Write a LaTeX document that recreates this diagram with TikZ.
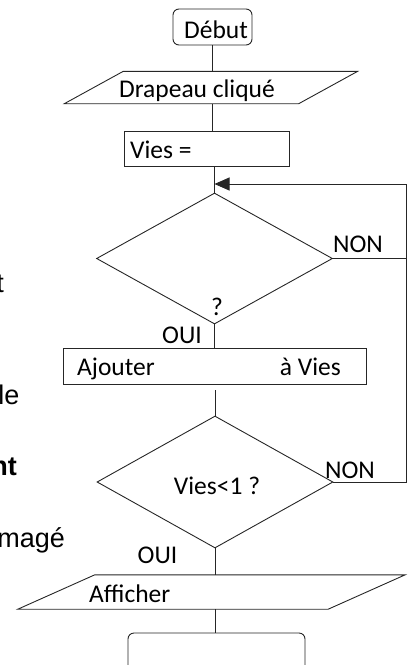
\documentclass[tikz,border=0pt]{standalone}
\usepackage{fontspec}
\setmainfont{Carlito}
\newfontfamily\arial{Liberation Sans}
\usetikzlibrary{shapes,arrows.meta,calc}
\tikzstyle{trait}=[draw=black!85, line width=0.9pt]
\tikzstyle{fleche}=[trait, -{Triangle[length=15pt,width=13pt]}]
\tikzstyle{boite}=[rectangle, trait, inner sep=0pt]
\tikzstyle{bout}=[boite, rounded corners=6pt]
\tikzstyle{cadre}=[rectangle, inner sep=0pt]
\tikzstyle{test}=[diamond, trait, inner sep=0pt]
\tikzstyle{txt}=[inner sep=0pt]
\tikzstyle{bord}=[txt, anchor=base east, font=\arial\fontsize{27}{32}\selectfont]

\begin{document}
\begin{tikzpicture}[x=1pt, y=-1pt, font=\fontsize{25.5}{30}\selectfont]
\useasboundingbox (0,0) rectangle (409,665);

% bouts de texte coupes a gauche
\node (m1) [bord] at (4,292) {t};
\node (m2) [bord] at (19.5,404) {le};
\node (m3) [bord] at (17,475) {\bfseries nt};
\node (m4) [bord] at (65,547) {magé};

% formes
\node (debut) [bout, minimum width=79pt, minimum height=36pt] at (212.5,27) {};
\node (drapeau) [cadre, minimum width=293pt, minimum height=32pt] at (211,87.5) {};
\draw [trait] ($(drapeau.north west)+(59,0)$) -- (drapeau.north east)
  -- ($(drapeau.south east)+(-59,0)$) -- (drapeau.south west) -- cycle;
\node (vies) [boite, minimum width=165pt, minimum height=35pt] at (206.5,148.5) {};
\node (d1) [test, minimum width=236pt, minimum height=131pt] at (214.5,258.5) {};
\node (ajout) [boite, minimum width=303pt, minimum height=36pt] at (214.5,366) {};
\node (d2) [test, minimum width=236pt, minimum height=132pt] at (215,482) {};
\node (afficher) [cadre, minimum width=387pt, minimum height=34pt] at (211.5,592) {};
\draw [trait] ($(afficher.north west)+(77,0)$) -- (afficher.north east)
  -- ($(afficher.south east)+(-77,0)$) -- (afficher.south west) -- cycle;
\node (fin) [bout, minimum width=177pt, minimum height=40pt] at (216.5,653) {};

% textes
\node (tdebut) [txt, anchor=base] at (216,38) {Début};
\node (tdrapeau) [txt, anchor=base] at (197,97.5) {Drapeau cliqué};
\node (tvies) [txt, anchor=base west] at (130,158) {Vies =};
\node (tq) [txt, anchor=base] at (217,315) {?};
\node (non1) [txt, anchor=base] at (358,252) {NON};
\node (oui1) [txt, anchor=base] at (182,343) {OUI};
\node (tajout) [txt, anchor=base west] at (77,375) {Ajouter};
\node (tavies) [txt, anchor=base east] at (341,375) {à Vies};
\node (tvies1) [txt, anchor=base] at (217,494) {Vies<1 ?};
\node (non2) [txt, anchor=base] at (350,478) {NON};
\node (oui2) [txt, anchor=base] at (157.5,563) {OUI};
\node (tafficher) [txt, anchor=base west] at (89,602) {Afficher};

% boucle
\coordinate (loop) at (406,184);
\coordinate (join) at (d1.north |- loop);

% liaisons
\draw [trait] (debut.south) -- (debut.south |- drapeau.north);
\draw [trait] (drapeau.south -| debut.south) -- (debut.south |- vies.north);
\draw [trait] (vies.south -| d1.north) -- (d1.north);
\draw [fleche] (loop) -- (join);
\draw [trait] (d1.east) -- (d1.east -| loop);
\draw [trait] (d2.east) -- (d2.east -| loop) -- (loop);
\draw [trait] (d1.south) -- (ajout.north -| d1.south);
\draw [trait] ($(ajout.south -| d2.north)+(0,6)$) -- (d2.north);
\draw [trait] (d2.south) -- (afficher.north -| d2.south);
\draw [trait] (afficher.south -| d2.south) -- (fin.north -| d2.south);

\end{tikzpicture}
\end{document}
